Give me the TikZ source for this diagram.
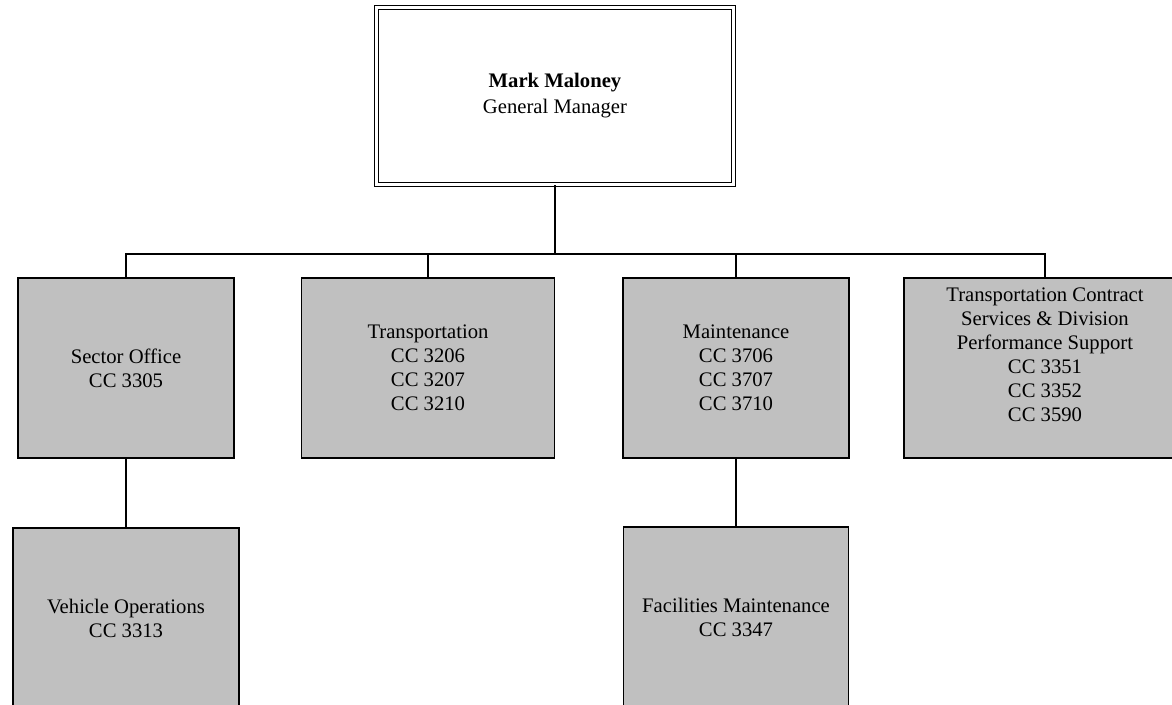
\documentclass[tikz,border=0pt]{standalone}
\usepackage{fontspec}
\setmainfont{Liberation Serif}
\usepackage{tikz}
\usetikzlibrary{positioning}
\definecolor{boxgray}{RGB}{192,192,192}

\begin{document}
\begin{tikzpicture}[x=0.75pt,y=-0.75pt,line width=0.9pt,
  unit/.style={draw,fill=boxgray,align=center,inner sep=0pt,font=\fontsize{15.5}{18}\selectfont,minimum height=135pt}]
\useasboundingbox (0,0) rectangle (1172,704);
\node[draw,double,double distance=2.2pt,line width=1pt,align=center,inner sep=0pt,minimum width=267.75pt,minimum height=132.75pt,font=\fontsize{15.5}{19.5}\selectfont] (gm) at (555,96) {\textbf{Mark Maloney}\\General Manager};
\node[unit,minimum width=162pt] (sector) at (126,368) {Sector Office\\CC 3305};
\node[unit,minimum width=189.75pt] (trans) at (428,368) {Transportation\\CC 3206\\CC 3207\\CC 3210};
\node[unit,minimum width=169.5pt] (maint) at (736,368) {Maintenance\\CC 3706\\CC 3707\\CC 3710};
\node[unit,minimum width=211.5pt] (contract) at (1045,368) {Transportation Contract\\Services \& Division\\Performance Support\\CC 3351\\CC 3352\\CC 3590\\[2pt]};
\node[unit,minimum width=169.5pt] (vehicle) at (126,618) {Vehicle Operations\\CC 3313};
\node[unit,minimum width=168.75pt] (facil) at (736,617) {Facilities Maintenance\\CC 3347};
\coordinate (bus) at (555,254);

\draw (gm.south) -- (bus);
\draw (sector.north) -- (sector.north |- bus) -- (contract.north |- bus) -- (contract.north);
\draw (trans.north) -- (trans.north |- bus);
\draw (maint.north) -- (maint.north |- bus);
\draw (sector) -- (vehicle);
\draw (maint) -- (facil);
\end{tikzpicture}
\end{document}
